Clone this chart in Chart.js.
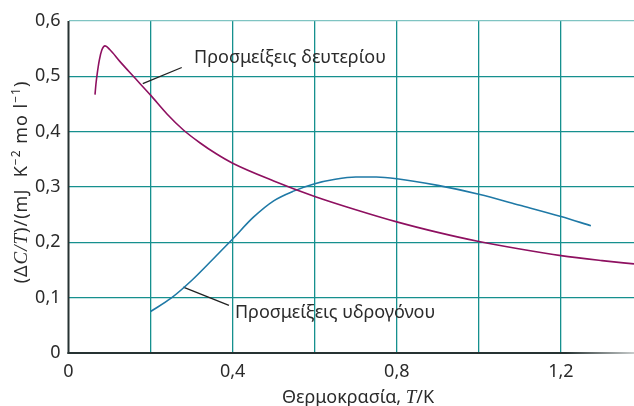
<!DOCTYPE html>
<html><head><meta charset="utf-8">
<script src="https://cdn.jsdelivr.net/npm/chart.js@4"></script>
<style>html,body{margin:0;padding:0;background:#fff}#wrap{width:634px;height:406px}</style>
</head><body><div id="wrap"><canvas id="c"></canvas></div>
<script>
// Data (T in K, ΔC/T in mJ K^-2 mol^-1)
const deutT = [0.0646,0.067,0.070,0.075,0.081,0.089,0.101,0.125,0.158,0.2,0.24,0.28,0.32,0.36,0.4,0.5,0.6,0.7,0.8,0.9,1.0,1.1,1.2,1.3,1.378];
const deutV = [0.467,0.487,0.505,0.529,0.547,0.555,0.548,0.527,0.5,0.466,0.432,0.403,0.38,0.36,0.343,0.311,0.283,0.259,0.237,0.218,0.2015,0.188,0.176,0.167,0.161];
const hydT = [0.2,0.25,0.3,0.35,0.4,0.45,0.5,0.55,0.6,0.65,0.7,0.75,0.8,0.9,1.0,1.1,1.2,1.273];
const hydV = [0.075,0.099,0.131,0.168,0.206,0.245,0.275,0.293,0.306,0.314,0.318,0.318,0.315,0.303,0.287,0.267,0.2466,0.23];
const xTickLabels = {0:'0',0.4:'0,4',0.8:'0,8',1.2:'1,2'};
const yTickLabels = ['0','0,1','0,2','0,3','0,4','0,5','0,6'];
const deutLabel = 'Προσμείξεις δευτερίου';
const hydLabel = 'Προσμείξεις υδρογόνου';
// leader lines [x1,y1,x2,y2] and label anchors [x,y] in data units
const deutLeader = [0.181,0.487,0.276,0.516];
const hydLeader = [0.2797,0.119,0.391,0.086];
const deutLabelPos = [0.306,0.533];
const hydLabelPos = [0.4056,0.0727];

const toPts = (xs, ys) => xs.map((x,i)=>({x, y: ys[i]}));
const FONT = '"Noto Sans", sans-serif';
const SERIF_IT = 'italic 19px "Liberation Serif", serif';
const TXT = '#2b2b2b';

function drawSegs(ctx, segs, x0, y0){
  let w = 0; segs.forEach(s=>{ctx.font=s[1]; w+=ctx.measureText(s[0]).width;});
  ctx.save();
  ctx.translate(x0,y0);
  let px = -w/2;
  segs.forEach(s=>{ctx.font=s[1]; ctx.fillText(s[0], px, s[2]||0); px += ctx.measureText(s[0]).width;});
  ctx.restore();
}

const annot = {
  id:'annot',
  afterDatasetsDraw(chart){
    const {ctx, scales:{x,y}, chartArea:ca} = chart;
    ctx.save();
    // x-axis line with fade
    const g = ctx.createLinearGradient(ca.left,0,634,0);
    g.addColorStop(0,'#263232'); g.addColorStop(0.88,'#263232'); g.addColorStop(1,'#c8cccc');
    ctx.strokeStyle = g; ctx.lineWidth = 2;
    ctx.beginPath(); ctx.moveTo(ca.left-1, y.getPixelForValue(0)); ctx.lineTo(634, y.getPixelForValue(0)); ctx.stroke();
    // y-axis line
    ctx.strokeStyle = '#263232'; ctx.lineWidth = 2;
    ctx.beginPath(); ctx.moveTo(x.getPixelForValue(0), ca.top); ctx.lineTo(x.getPixelForValue(0), y.getPixelForValue(0)+1); ctx.stroke();
    // labels
    ctx.fillStyle = TXT; ctx.font = '18px '+FONT; ctx.textBaseline='middle'; ctx.textAlign='left';
    ctx.fillText(deutLabel, x.getPixelForValue(deutLabelPos[0]), y.getPixelForValue(deutLabelPos[1]));
    ctx.fillText(hydLabel, x.getPixelForValue(hydLabelPos[0]), y.getPixelForValue(hydLabelPos[1]));
    // x title
    ctx.textBaseline='alphabetic';
    drawSegs(ctx, [['Θερμοκρασία, ','18px '+FONT],['T',SERIF_IT],['/K','18px '+FONT]], 358, 403);
    // y title rotated
    ctx.save();
    ctx.translate(27, 182); ctx.rotate(-Math.PI/2);
    if ('letterSpacing' in ctx) ctx.letterSpacing = '1px';
    drawSegs(ctx, [['(Δ','18px '+FONT],['C/T',SERIF_IT],[')/(mJ  K','18px '+FONT],['−2','12px '+FONT,-7],[' mo l','18px '+FONT],['−1','12px '+FONT,-7],[')','18px '+FONT]], 0, 0);
    ctx.restore();
    ctx.restore();
  }
};

new Chart(document.getElementById('c'), {
  type:'scatter',
  data:{datasets:[
    {data: toPts(deutT, deutV), showLine:true, borderColor:'#8e1060', borderWidth:1.6, pointRadius:0, cubicInterpolationMode:'monotone'},
    {data: toPts(hydT, hydV), showLine:true, borderColor:'#1f79a6', borderWidth:1.6, pointRadius:0, cubicInterpolationMode:'monotone'},
    {data: [{x:deutLeader[0],y:deutLeader[1]},{x:deutLeader[2],y:deutLeader[3]}], showLine:true, borderColor:'#222', borderWidth:1.3, pointRadius:0},
    {data: [{x:hydLeader[0],y:hydLeader[1]},{x:hydLeader[2],y:hydLeader[3]}], showLine:true, borderColor:'#222', borderWidth:1.3, pointRadius:0}
  ]},
  options:{
    responsive:true, maintainAspectRatio:false, animation:false,
    layout:{padding:{top:21,right:0,left:0,bottom:0}},
    plugins:{legend:{display:false}, tooltip:{enabled:false}},
    scales:{
      x:{type:'linear', min:0, max:1.378,
        afterFit(s){s.height = 53;},
        border:{display:false},
        grid:{color:(c)=> c.tick && Math.abs(c.tick.value)<1e-9 ? 'rgba(0,0,0,0)' : '#16908e', lineWidth:1.3, drawTicks:false},
        ticks:{stepSize:0.2, includeBounds:false, autoSkip:false, maxRotation:0, padding:8, color:TXT, font:{family:'"Noto Sans", sans-serif', size:18},
          callback:(v)=>{const k=Math.round(v*10)/10; return xTickLabels[k]!==undefined && Math.abs(v-k)<1e-6 ? xTickLabels[k] : '';}}
      },
      y:{type:'linear', min:0, max:0.6,
        afterFit(s){s.width = 68.5;},
        border:{display:false},
        grid:{color:(c)=> { if(!c.tick) return '#16908e'; const v=c.tick.value; if(Math.abs(v)<1e-9) return 'rgba(0,0,0,0)'; if(Math.abs(v-0.6)<1e-9) return '#7fc4c2'; return '#16908e';}, lineWidth:1.3, drawTicks:false},
        ticks:{stepSize:0.1, padding:8, color:TXT, font:{family:'"Noto Sans", sans-serif', size:18},
          callback:(v)=>{const i=Math.round(v*10); return Math.abs(v*10-i)<1e-6 ? yTickLabels[i] : '';}}
      }
    }
  },
  plugins:[annot]
});
</script></body></html>
